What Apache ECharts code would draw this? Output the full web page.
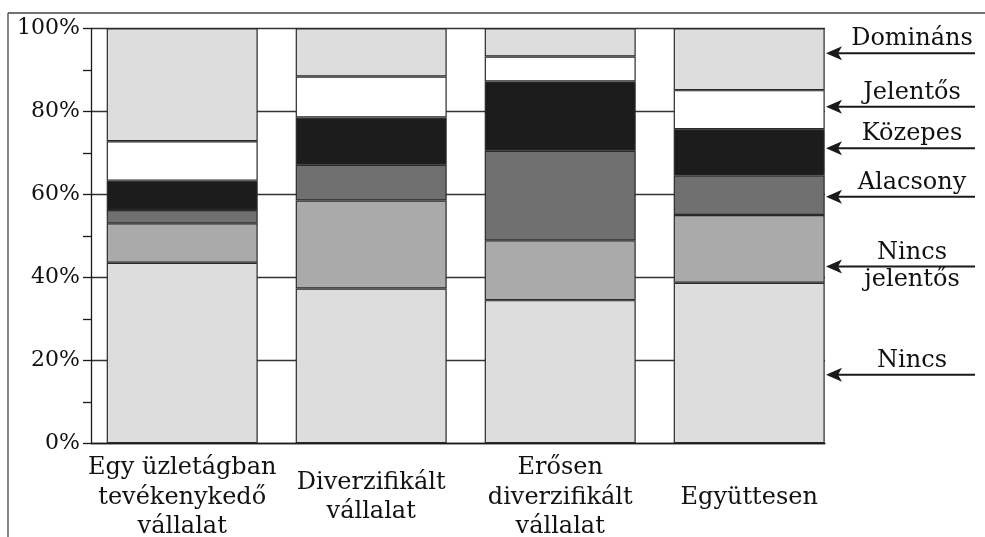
<!DOCTYPE html>
<html><head><meta charset="utf-8">
<script src="https://cdn.jsdelivr.net/npm/echarts@6/dist/echarts.min.js"></script>
<style>html,body{margin:0;padding:0;background:#fff}#c{width:985px;height:537px}</style>
</head><body><div id="c"></div>
<script>
const categories = ['Egy üzletágban\ntevékenykedő\nvállalat', 'Diverzifikált\nvállalat', 'Erősen\ndiverzifikált\nvállalat', 'Együttesen'];
const seriesNames = ['Nincs', 'Nincs jelentős', 'Alacsony', 'Közepes', 'Jelentős', 'Domináns'];
const nincs = [43.5, 37.3, 34.5, 38.7];
const nincsJelentos = [9.5, 21.2, 14.4, 16.3];
const alacsony = [3.2, 8.6, 21.6, 9.5];
const kozepes = [7.1, 11.4, 16.7, 11.2];
const jelentos = [9.5, 9.9, 6.0, 9.4];
const dominans = [27.2, 11.6, 6.8, 14.9];
const seriesColors = ['#dddddd', '#aaaaaa', '#707070', '#1c1c1c', '#ffffff', '#dddddd'];
const arrowLabels = ['Domináns', 'Jelentős', 'Közepes', 'Alacsony', 'Nincs\njelentős', 'Nincs'];
const arrowAt = [94, 81.1, 71.1, 59.4, 42.6, 16.5];

const FONT = 'DejaVu Serif';
const values = [nincs, nincsJelentos, alacsony, kozepes, jelentos, dominans];
const chart = echarts.init(document.getElementById('c'), null, {renderer: 'canvas'});

const option = {
  animation: false,
  backgroundColor: '#ffffff',
  grid: [
    {left: 91, right: 160, top: 28.3, bottom: 93.7, outerBoundsMode: 'none', containLabel: false},
    {left: 87.7, right: 141.3, top: 28.3, bottom: 93.7, outerBoundsMode: 'none', containLabel: false}
  ],
  xAxis: [
    {gridIndex: 0, type: 'value', min: 0, max: 1,
     axisLine: {show: true, lineStyle: {color: '#1a1a1a', width: 1.3}},
     axisTick: {show: false}, axisLabel: {show: false}, splitLine: {show: false}},
    {gridIndex: 1, type: 'category', data: categories,
     axisLine: {show: false}, axisTick: {show: false}, splitLine: {show: false},
     axisLabel: {fontFamily: FONT, fontSize: 24, color: '#111', lineHeight: 29.5,
                 verticalAlign: 'middle', margin: 54, interval: 0}}
  ],
  yAxis: [
    {gridIndex: 0, type: 'value', min: 0, max: 100, interval: 20,
     axisLine: {show: true, lineStyle: {color: '#1a1a1a', width: 1.3}},
     axisTick: {show: true, length: 8, lineStyle: {color: '#1a1a1a', width: 1.3}},
     minorTick: {show: true, splitNumber: 2, length: 8, lineStyle: {color: '#1a1a1a', width: 1.3}},
     splitLine: {show: true, lineStyle: {color: '#333', width: 1.3}},
     axisLabel: {fontFamily: FONT, fontSize: 22, color: '#111', margin: 11,
                 formatter: v => v + '%'}},
    {gridIndex: 1, type: 'value', min: 0, max: 100, show: false}
  ],
  series: values.map((arr, i) => ({
    name: seriesNames[i], type: 'bar', stack: 'total',
    xAxisIndex: 1, yAxisIndex: 1, barWidth: 151,
    itemStyle: {color: seriesColors[i], borderColor: '#2a2a2a', borderWidth: 1.2},
    data: arr
  })),
  graphic: [
    {id: 'frameTop', type: 'line', shape: {x1: 8, y1: 13, x2: 985, y2: 13}, style: {stroke: '#444', lineWidth: 1.3}},
    {id: 'frameLeft', type: 'line', shape: {x1: 8, y1: 13, x2: 8, y2: 537}, style: {stroke: '#444', lineWidth: 1.3}}
  ]
};
chart.setOption(option);

const arrows = [];
arrowAt.forEach((v, i) => {
  const y = chart.convertToPixel({yAxisIndex: 0}, v);
  const tipX = 826, endX = 975, headLen = 16, headHalf = 7, textX = 912;
  arrows.push({id: 'al' + i, type: 'line', shape: {x1: tipX + 8, y1: y, x2: endX, y2: y},
               style: {stroke: '#1a1a1a', lineWidth: 2}});
  arrows.push({id: 'ah' + i, type: 'polygon',
               shape: {points: [[tipX, y], [tipX + headLen, y - headHalf], [tipX + headLen - 4, y], [tipX + headLen, y + headHalf]]},
               style: {fill: '#1a1a1a'}});
  const parts = arrowLabels[i].split('\n');
  arrows.push({id: 'at' + i, type: 'text', x: textX, y: y - 14,
               style: {text: parts[0], font: '24px "' + FONT + '"', fill: '#111',
                       textAlign: 'center', textVerticalAlign: 'middle'}});
  if (parts[1]) {
    arrows.push({id: 'au' + i, type: 'text', x: textX, y: y + 13,
                 style: {text: parts[1], font: '24px "' + FONT + '"', fill: '#111',
                         textAlign: 'center', textVerticalAlign: 'middle'}});
  }
});
chart.setOption({graphic: arrows});
</script>
</body></html>
